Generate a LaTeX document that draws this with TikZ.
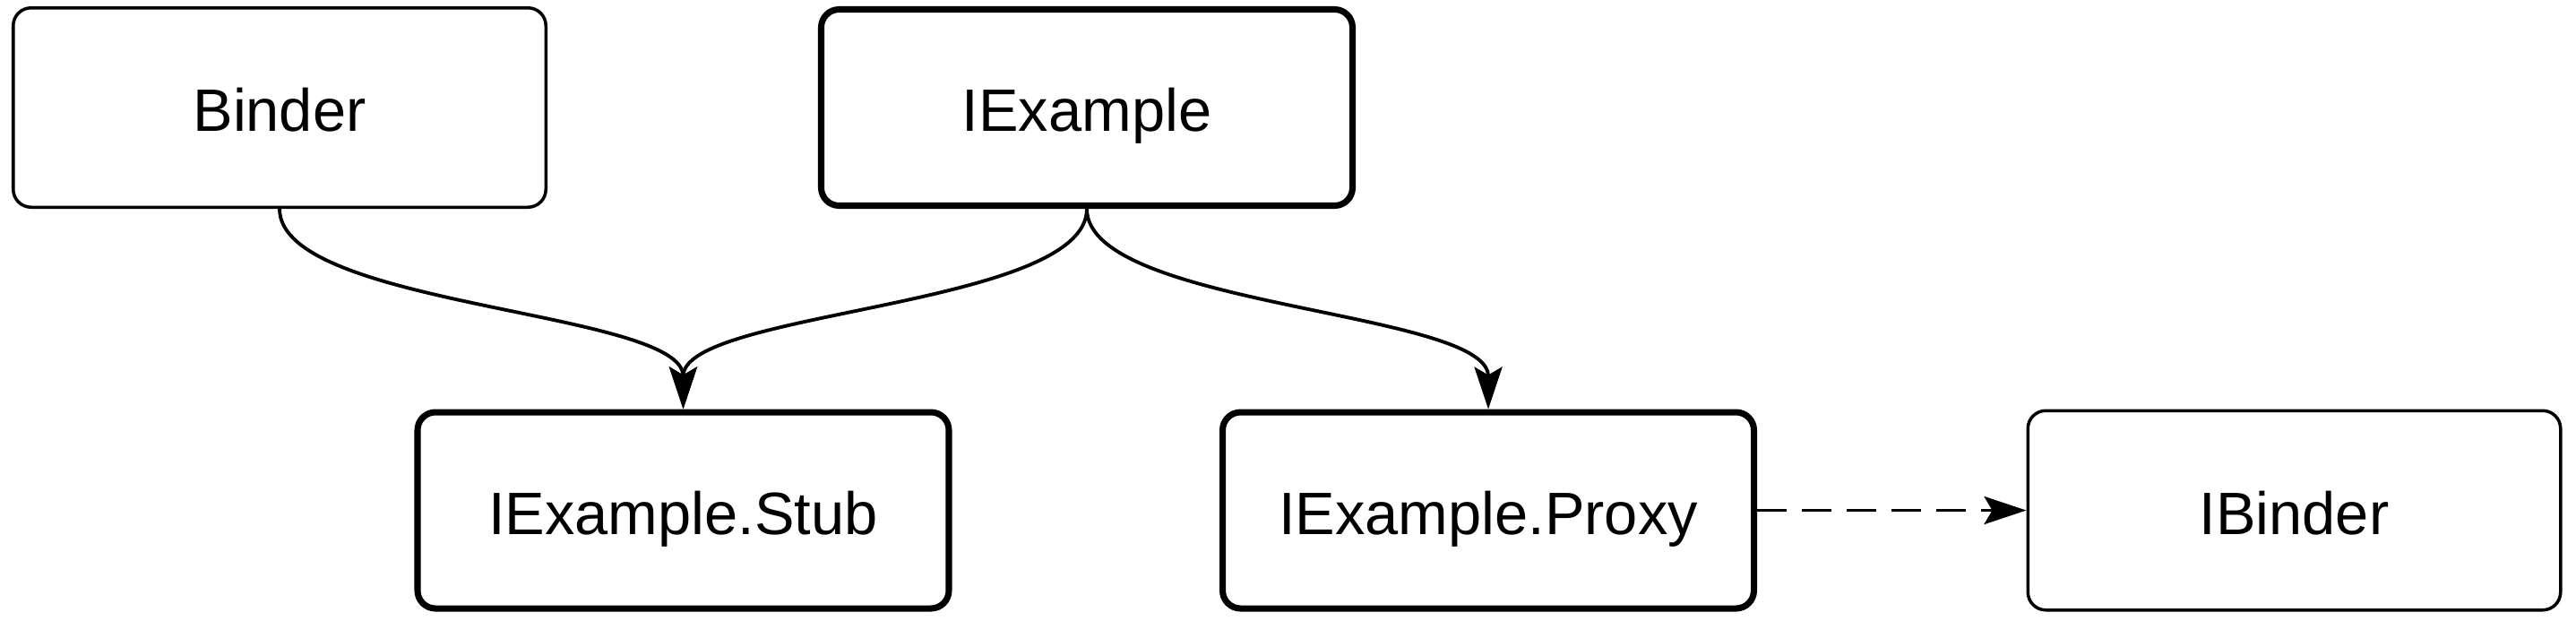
\documentclass[tikz,border=0pt]{standalone}
\usepackage{fontspec}
\setmainfont{Liberation Sans}
\usetikzlibrary{arrows.meta, positioning}

\begin{document}
\begin{tikzpicture}[>={Stealth[length=4.7mm, width=3.1mm, inset=0.9mm]},
    thinbox/.style={draw, line width=1pt, rounded corners=2mm, inner sep=0pt,
        text height=5.3mm, text depth=0pt,
        minimum width=5.945cm, minimum height=2.225cm, font=\fontsize{19}{23}\selectfont},
    thickbox/.style={thinbox, line width=2pt, minimum width=5.93cm, minimum height=2.19cm},
    link/.style={->, line width=1.1pt},
    weaklink/.style={->, line width=1.1pt, dash pattern=on 3.3mm off 1.7mm}]
    \useasboundingbox (0,0) rectangle (28.75,-6.92);
    % top row
    \node[thinbox] (binder) at (3.12,-1.20) {Binder};
    \node[thickbox] (iexample) at (12.13,-1.20) {IExample};
    % bottom row
    \node[thickbox] (stub) at (7.625,-5.695) {IExample.Stub};
    \node[thickbox] (proxy) at (16.61,-5.695) {IExample.Proxy};
    \node[thinbox] (ibinder) at (25.605,-5.695) {IBinder};
    % connectors
    \draw[link] (binder.south) .. controls +(0,-1.1) and +(0,1.1) .. (stub.north);
    \draw[link] (iexample.south) .. controls +(0,-1.1) and +(0,1.1) .. (stub.north);
    \draw[link] (iexample.south) .. controls +(0,-1.1) and +(0,1.1) .. (proxy.north);
    \draw[weaklink] (proxy.east) -- (ibinder.west);
\end{tikzpicture}
\end{document}
